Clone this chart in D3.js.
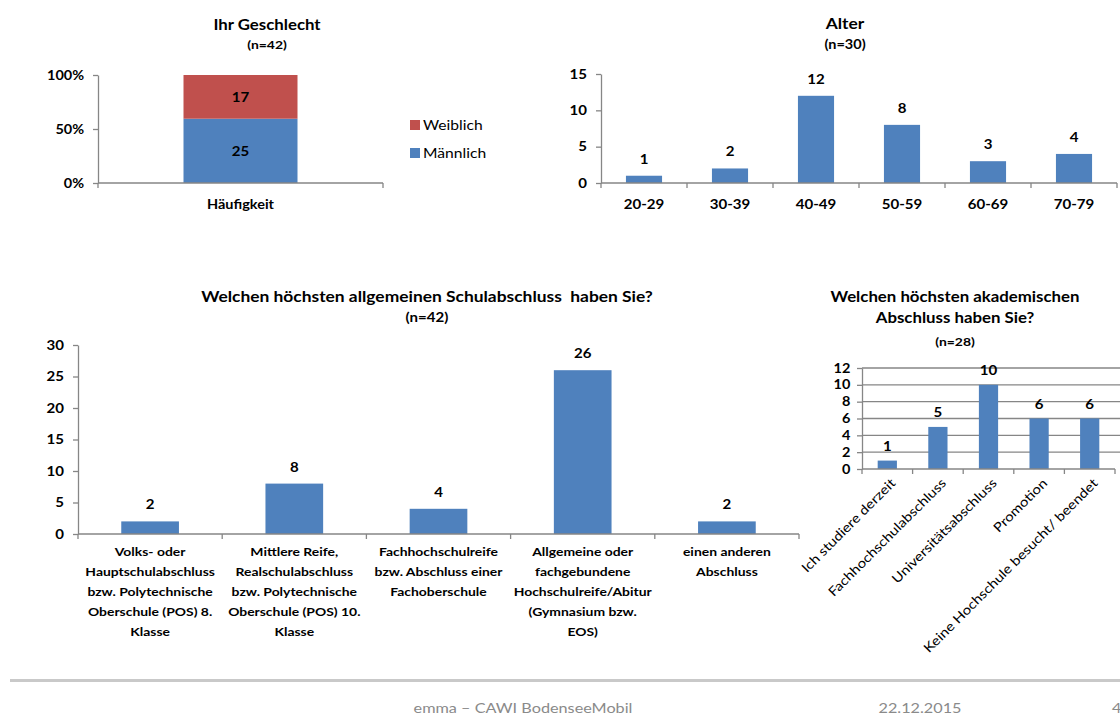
<!DOCTYPE html>
<html>
<head>
<meta charset="utf-8">
<script src="https://cdn.jsdelivr.net/npm/d3@7"></script>
<style>
  html, body { margin: 0; padding: 0; background: #fff; }
  svg { display: block; font-family: Lato, "Open Sans", "DejaVu Sans", sans-serif; }
  text { white-space: pre; }
</style>
</head>
<body>
<svg id="page" width="1120" height="715"></svg>
<script>
// ---- data ----
const genderCategory = ["Häufigkeit"];
const genderSeries = ["Männlich", "Weiblich"];
const genderCounts = [25, 17];
const genderTicks = [0, 0.5, 1];

const ageGroups = ["20-29", "30-39", "40-49", "50-59", "60-69", "70-79"];
const ageCounts = [1, 2, 12, 8, 3, 4];
const ageTicks = [0, 5, 10, 15];

const schoolLabels = [
  ["Volks- oder", "Hauptschulabschluss", "bzw. Polytechnische", "Oberschule (POS) 8.", "Klasse"],
  ["Mittlere Reife,", "Realschulabschluss", "bzw. Polytechnische", "Oberschule (POS) 10.", "Klasse"],
  ["Fachhochschulreife", "bzw. Abschluss einer", "Fachoberschule"],
  ["Allgemeine oder", "fachgebundene", "Hochschulreife/Abitur", "(Gymnasium bzw.", "EOS)"],
  ["einen anderen", "Abschluss"]
];
const schoolCounts = [2, 8, 4, 26, 2];
const schoolTicks = [0, 5, 10, 15, 20, 25, 30];

const degreeLabels = ["Ich studiere derzeit", "Fachhochschulabschluss", "Universitätsabschluss", "Promotion", "Keine Hochschule besucht/ beendet"];
const degreeCounts = [1, 5, 10, 6, 6];
const degreeTicks = [0, 2, 4, 6, 8, 10, 12];

// ---- style ----
const BLUE = "#4f81bd", RED = "#c0504d", AXIS = "#868686";
const SX = 1.16; // horizontal glyph stretch of the slide

const svg = d3.select("#page");

function label(g, x, y, s, o = {}) {
  const size = o.size || 13, weight = o.weight || "bold", anchor = o.anchor || "middle";
  const tf = o.rotate
    ? `translate(${x},${y}) rotate(${o.rotate}) scale(${SX},1)`
    : `translate(${x},${y}) scale(${SX},1)`;
  return g.append("text")
    .attr("transform", tf)
    .attr("text-anchor", anchor)
    .attr("fill", o.fill || "#000")
    .style("font-size", size + "px")
    .style("font-weight", weight)
    .text(s);
}

function yAxis(g, y, x0, ticks, fmt, size) {
  const ax = g.append("g").attr("transform", `translate(${x0},0)`)
    .call(d3.axisLeft(y).tickValues(ticks).tickSize(5).tickSizeOuter(0).tickPadding(7).tickFormat(fmt));
  ax.selectAll("path, line").attr("stroke", AXIS).attr("stroke-width", 1.3);
  ax.selectAll("text")
    .attr("transform", `scale(${SX},1)`)
    .attr("fill", "#000")
    .style("font-size", (size || 13) + "px")
    .style("font-weight", "bold")
    .style("font-family", "Lato, 'Open Sans', sans-serif");
  return ax;
}

function xAxisLine(g, x, y0) {
  const half = x.step() / 2;
  const bounds = [x.domain()[0]].map(d => x(d) + x.bandwidth() / 2 - half)
    .concat(x.domain().map(d => x(d) + x.bandwidth() / 2 + half));
  g.append("line").attr("x1", bounds[0]).attr("x2", bounds[bounds.length - 1])
    .attr("y1", y0).attr("y2", y0).attr("stroke", AXIS).attr("stroke-width", 1.3);
  g.selectAll(null).data(bounds).enter().append("line")
    .attr("x1", d => d).attr("x2", d => d).attr("y1", y0).attr("y2", y0 + 5)
    .attr("stroke", AXIS).attr("stroke-width", 1.3);
}

// ---- Ihr Geschlecht ----
{
  const g = svg.append("g");
  const total = d3.sum(genderCounts);
  const y = d3.scaleLinear().domain([0, 1]).range([183, 75]);
  const x = d3.scaleBand().domain(genderCategory).range([98, 383]).paddingInner(0.6).paddingOuter(0.3);
  const stack = d3.stack().keys(genderSeries)([Object.fromEntries(genderSeries.map((k, i) => [k, genderCounts[i] / total]))]);
  const colors = [BLUE, RED];
  stack.forEach((layer, i) => {
    const seg = layer[0];
    g.append("rect").attr("x", x(genderCategory[0])).attr("width", x.bandwidth())
      .attr("y", y(seg[1])).attr("height", y(seg[0]) - y(seg[1])).attr("fill", colors[i]);
    label(g, x(genderCategory[0]) + x.bandwidth() / 2, (y(seg[0]) + y(seg[1])) / 2 + 5, genderCounts[i]);
  });
  yAxis(g, y, 98, genderTicks, d3.format(".0%"), 12.5);
  xAxisLine(g, x, 183);
  label(g, x(genderCategory[0]) + x.bandwidth() / 2, 209, genderCategory[0], { size: 12.5 });
  label(g, 267, 30, "Ihr Geschlecht", { size: 14.5 });
  label(g, 267, 49, "(n=42)", { size: 12 });
  // legend (top entry is the upper segment)
  [1, 0].forEach((si, row) => {
    const cy = 125 + row * 28;
    g.append("rect").attr("x", 410).attr("y", cy - 5).attr("width", 10).attr("height", 10).attr("fill", colors[si]);
    label(g, 423, cy + 5, genderSeries[si], { size: 13.5, anchor: "start", weight: "normal" });
  });
}

// ---- Alter ----
{
  const g = svg.append("g");
  const y = d3.scaleLinear().domain([0, 15]).range([183, 74]);
  const x = d3.scaleBand().domain(ageGroups).range([601, 1117]).paddingInner(0.58).paddingOuter(0.29);
  g.selectAll(null).data(ageGroups).enter().append("rect")
    .attr("x", d => x(d)).attr("width", x.bandwidth())
    .attr("y", (d, i) => y(ageCounts[i])).attr("height", (d, i) => 183 - y(ageCounts[i]))
    .attr("fill", BLUE);
  yAxis(g, y, 601, ageTicks, d3.format("d"), 13);
  xAxisLine(g, x, 183);
  ageGroups.forEach((d, i) => {
    const cx = x(d) + x.bandwidth() / 2;
    label(g, cx, y(ageCounts[i]) - 12, ageCounts[i]);
    label(g, cx, 209, d);
  });
  label(g, 845, 29, "Alter", { size: 15 });
  label(g, 845, 49, "(n=30)", { size: 12.5 });
}

// ---- Schulabschluss ----
{
  const g = svg.append("g");
  const y = d3.scaleLinear().domain([0, 30]).range([534, 345]);
  const cats = schoolLabels.map(l => l.join(" "));
  const x = d3.scaleBand().domain(cats).range([78, 799]).paddingInner(0.6).paddingOuter(0.3);
  g.selectAll(null).data(cats).enter().append("rect")
    .attr("x", d => x(d)).attr("width", x.bandwidth())
    .attr("y", (d, i) => y(schoolCounts[i])).attr("height", (d, i) => 534 - y(schoolCounts[i]))
    .attr("fill", BLUE);
  yAxis(g, y, 78, schoolTicks, d3.format("d"), 13);
  xAxisLine(g, x, 534);
  cats.forEach((d, i) => {
    const cx = x(d) + x.bandwidth() / 2;
    label(g, cx, y(schoolCounts[i]) - 12, schoolCounts[i]);
    schoolLabels[i].forEach((line, j) => label(g, cx, 556 + j * 20, line, { size: 12 }));
  });
  label(g, 427, 302, "Welchen höchsten allgemeinen Schulabschluss  haben Sie?", { size: 15 });
  label(g, 427, 322, "(n=42)", { size: 13 });
}

// ---- akademischer Abschluss ----
{
  const g = svg.append("g");
  const y = d3.scaleLinear().domain([0, 12]).range([469, 368]);
  const x = d3.scaleBand().domain(degreeLabels).range([862, 1115]).paddingInner(0.62).paddingOuter(0.31);
  g.selectAll(null).data(degreeTicks.slice(1)).enter().append("line")
    .attr("x1", 862).attr("x2", 1120).attr("y1", d => y(d)).attr("y2", d => y(d))
    .attr("stroke", AXIS).attr("stroke-width", 1.3);
  g.selectAll(null).data(degreeLabels).enter().append("rect")
    .attr("x", d => x(d)).attr("width", x.bandwidth())
    .attr("y", (d, i) => y(degreeCounts[i])).attr("height", (d, i) => 469 - y(degreeCounts[i]))
    .attr("fill", BLUE);
  const ax = yAxis(g, y, 862, degreeTicks, d3.format("d"), 12.5);
  ax.selectAll("text").attr("x", -10);
  xAxisLine(g, x, 469);
  degreeLabels.forEach((d, i) => {
    const cx = x(d) + x.bandwidth() / 2;
    label(g, cx, y(degreeCounts[i]) - 10, degreeCounts[i]);
    label(g, cx + 9, 484, d, { size: 13, anchor: "end", weight: "normal", rotate: -45 });
  });
  label(g, 955, 302, "Welchen höchsten akademischen", { size: 14.5 });
  label(g, 955, 323, "Abschluss haben Sie?", { size: 14.5 });
  label(g, 955, 346, "(n=28)", { size: 12 });
}

// ---- footer ----
{
  const g = svg.append("g");
  g.append("rect").attr("x", 10).attr("y", 679).attr("width", 1110).attr("height", 3).attr("fill", "#c9c9c9");
  label(g, 523, 713, "emma – CAWI BodenseeMobil", { size: 14, weight: "normal", fill: "#8a8a8a" });
  label(g, 920, 713, "22.12.2015", { size: 14, weight: "normal", fill: "#8a8a8a" });
  label(g, 1112, 713, "4", { size: 14, weight: "normal", fill: "#8a8a8a", anchor: "start" });
}
</script>
</body>
</html>
